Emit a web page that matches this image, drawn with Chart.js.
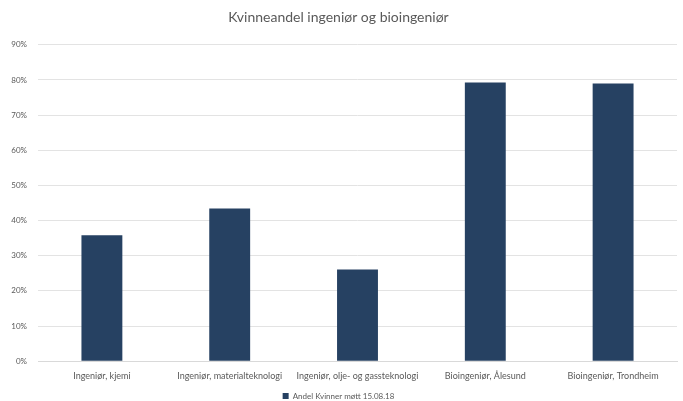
<!DOCTYPE html>
<html>
<head>
<meta charset="utf-8">
<script src="https://cdn.jsdelivr.net/npm/chart.js@4/dist/chart.umd.min.js"></script>
<style>
  html, body { margin: 0; padding: 0; background: #fff; }
  #chart-area { width: 683px; height: 401px; }
</style>
</head>
<body>
<div id="chart-area"></div>
<script>
const categories = ["Ingeniør, kjemi", "Ingeniør, materialteknologi", "Ingeniør, olje- og gassteknologi", "Bioingeniør, Ålesund", "Bioingeniør, Trondheim"];
const andelKvinner = [0.358, 0.434, 0.261, 0.793, 0.790];
const seriesLabel = "Andel Kvinner møtt 15.08.18";
const chartTitle = "Kvinneandel ingeniør og bioingeniør";

const textColor = '#595959';
const fontFamily = 'Lato, "Open Sans", sans-serif';

const loadChart = function () {
  const ctx = document.createElement('canvas');
  document.getElementById('chart-area').appendChild(ctx);
  new Chart(ctx, {
    type: 'bar',
    data: {
      labels: categories,
      datasets: [{
        label: seriesLabel,
        data: andelKvinner,
        backgroundColor: '#264162',
        borderWidth: 0,
        categoryPercentage: 1,
        barPercentage: 0.32
      }]
    },
    options: {
      responsive: true,
      maintainAspectRatio: false,
      animation: false,
      layout: { padding: { left: 0, right: 6, top: 9, bottom: -9 } },
      plugins: {
        title: {
          display: true,
          text: chartTitle,
          color: textColor,
          font: { family: fontFamily, size: 14, weight: 'normal' },
          padding: { top: 0, bottom: 19 }
        },
        legend: {
          position: 'bottom',
          labels: {
            color: textColor,
            font: { family: fontFamily, size: 8 },
            boxWidth: 6,
            boxHeight: 6,
            padding: 2
          }
        },
        tooltip: { enabled: false }
      },
      scales: {
        x: {
          grid: { display: false, drawTicks: false },
          border: { color: '#d9d9d9' },
          ticks: {
            color: textColor,
            font: { family: fontFamily, size: 9 },
            padding: 9,
            maxRotation: 0,
            autoSkip: false
          }
        },
        y: {
          min: 0,
          max: 0.9,
          afterFit: function (axis) { axis.width = 38; },
          grid: { color: '#e3e3e3', drawTicks: false },
          border: { display: false },
          ticks: {
            stepSize: 0.1,
            color: textColor,
            font: { family: fontFamily, size: 8 },
            padding: 11,
            callback: function (v) { return Math.round(v * 100) + '%'; }
          }
        }
      }
    }
  });
};

loadChart();
</script>
</body>
</html>
